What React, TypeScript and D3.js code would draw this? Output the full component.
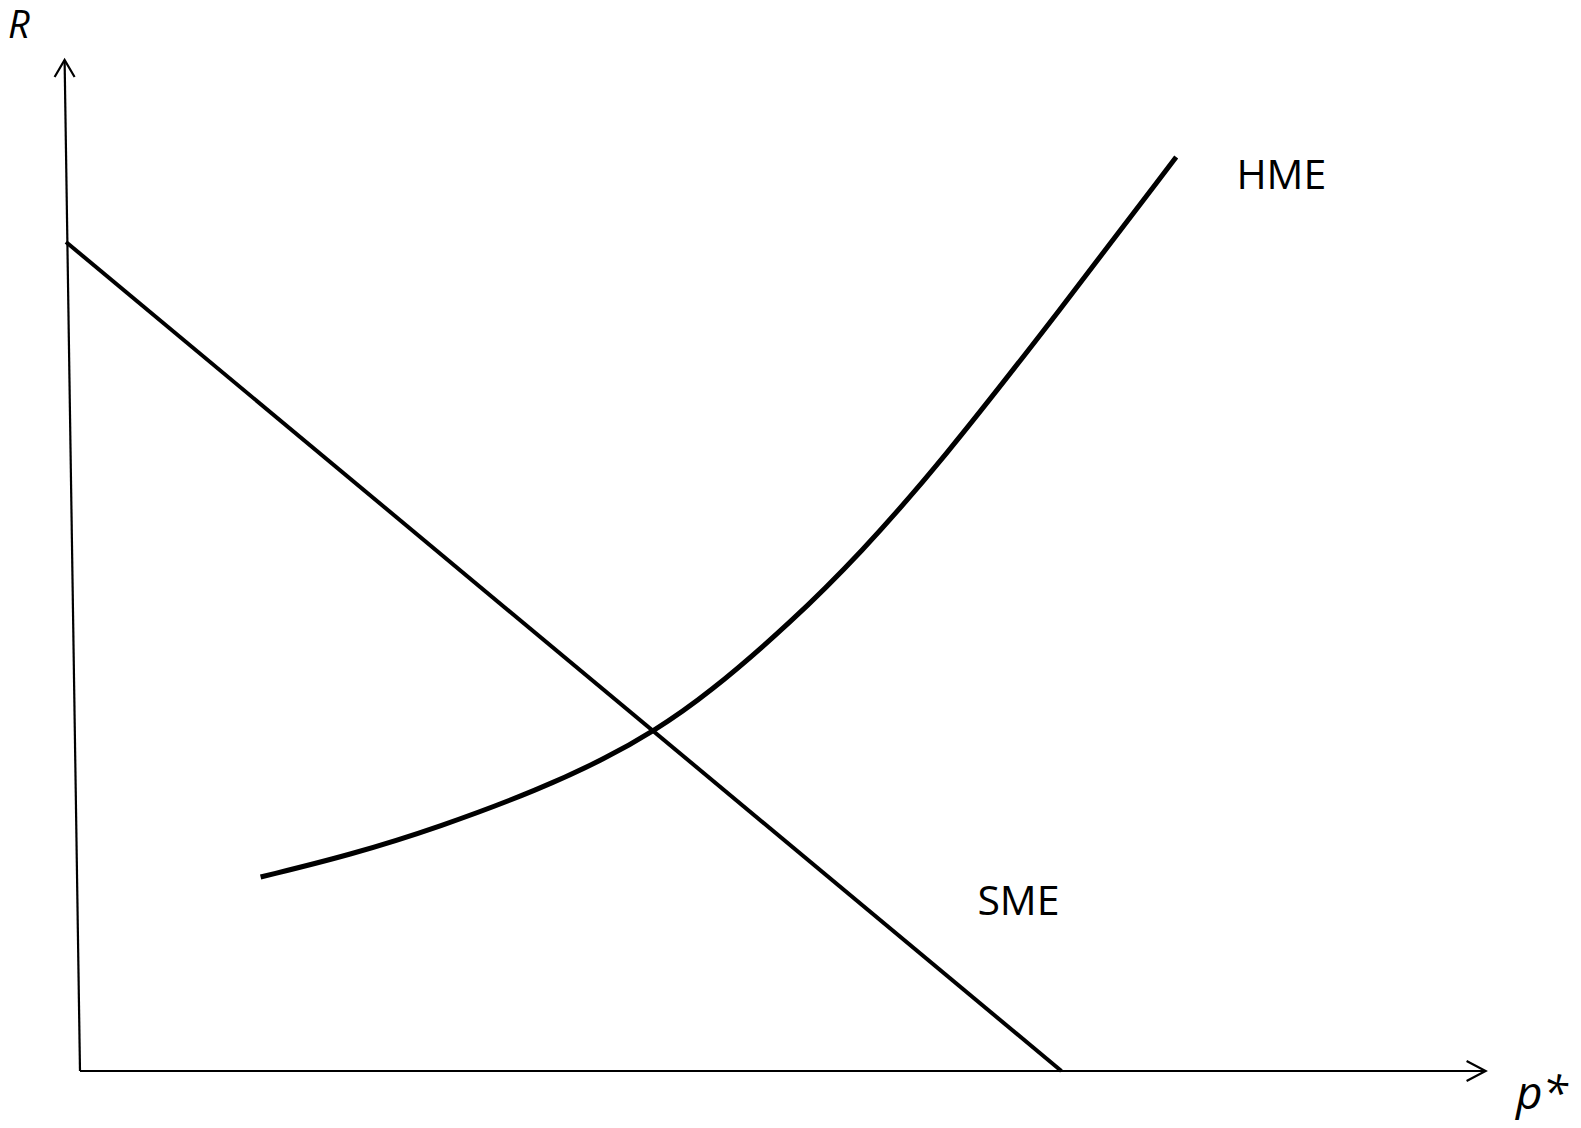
import React, { useRef, useEffect } from 'react';
import * as d3 from 'd3';

// HME curve (p* on x, R on y, arbitrary 0-100 units)
const hmeP = [12.9, 19.3, 25.7, 32.9, 37.6, 40.9, 44.8, 50.9, 55.7, 61.4, 70.0, 78.3];
const hmeR = [19.4, 21.6, 24.4, 28.2, 31.3, 33.9, 37.6, 45.0, 51.7, 60.7, 76.1, 91.4];

// SME straight line
const smeP = [-1.0, 70.1];
const smeR = [82.9, 0];

// axis ends (the R axis leans a little in the original)
const rAxisP = [0, -1.1];
const rAxisR = [0, 101.1];
const pAxisP = [0, 100.4];
const pAxisR = [0, 0];

const curveNames = ['HME', 'SME'];
const axisNames = ['R', 'p*'];

const App = () => {
    const svgRef = useRef<SVGSVGElement>(null);

    useEffect(() => {
        const svg = d3.select(svgRef.current);
        svg.selectAll('*').remove();

        const width = 1581;
        const height = 1128;

        const x = d3.scaleLinear().domain([0, 100]).range([80, 1480]);
        const y = d3.scaleLinear().domain([0, 100]).range([1071, 71]);

        const line = d3.line<[number, number]>()
            .x(d => x(d[0]))
            .y(d => y(d[1]));

        const zip = (a: number[], b: number[]) => a.map((v, i) => [v, b[i]] as [number, number]);

        svg.append('rect').attr('width', width).attr('height', height).attr('fill', '#fff');

        // axes
        const axes = svg.append('g').attr('fill', 'none').attr('stroke', '#000').attr('stroke-width', 2.2);
        axes.append('path').attr('d', line(zip(rAxisP, rAxisR)));
        axes.append('path').attr('d', line(zip(pAxisP, pAxisR)));

        // open arrow heads
        const rTipX = x(rAxisP[1]), rTipY = y(rAxisR[1]);
        axes.append('path')
            .attr('d', `M${rTipX - 10},${rTipY + 17}L${rTipX},${rTipY}L${rTipX + 10},${rTipY + 17}`);
        const pTipX = x(pAxisP[1]), pTipY = y(pAxisR[1]);
        axes.append('path')
            .attr('d', `M${pTipX - 19},${pTipY - 10}L${pTipX},${pTipY}L${pTipX - 19},${pTipY + 10}`);

        // SME
        svg.append('path')
            .attr('d', line(zip(smeP, smeR)))
            .attr('fill', 'none')
            .attr('stroke', '#000')
            .attr('stroke-width', 4);

        // HME - basis smoothing irons out the small reading errors
        const smooth = d3.line<[number, number]>()
            .x(d => x(d[0]))
            .y(d => y(d[1]))
            .curve(d3.curveBasis);
        svg.append('path')
            .attr('d', smooth(zip(hmeP, hmeR)))
            .attr('fill', 'none')
            .attr('stroke', '#000')
            .attr('stroke-width', 5);

        const font = "'Open Sans', 'Noto Sans', sans-serif";

        // curve labels
        svg.append('text')
            .attr('x', x(82.6)).attr('y', y(88.2))
            .attr('font-family', font).attr('font-size', 41)
            .text(curveNames[0]);
        svg.append('text')
            .attr('x', x(64.1)).attr('y', y(15.6))
            .attr('font-family', font).attr('font-size', 41)
            .text(curveNames[1]);

        // axis labels
        svg.append('text')
            .attr('x', 8).attr('y', 38)
            .attr('font-family', font).attr('font-size', 38).attr('font-style', 'italic')
            .text(axisNames[0]);
        svg.append('text')
            .attr('x', 1516).attr('y', 1109)
            .attr('font-family', font).attr('font-size', 46).attr('font-style', 'italic')
            .text(axisNames[1]);
    }, []);

    return (
        <svg ref={svgRef} width={1581} height={1128}
            style={{ position: 'absolute', left: 0, top: 0, display: 'block' }} />
    );
};

export default App;
